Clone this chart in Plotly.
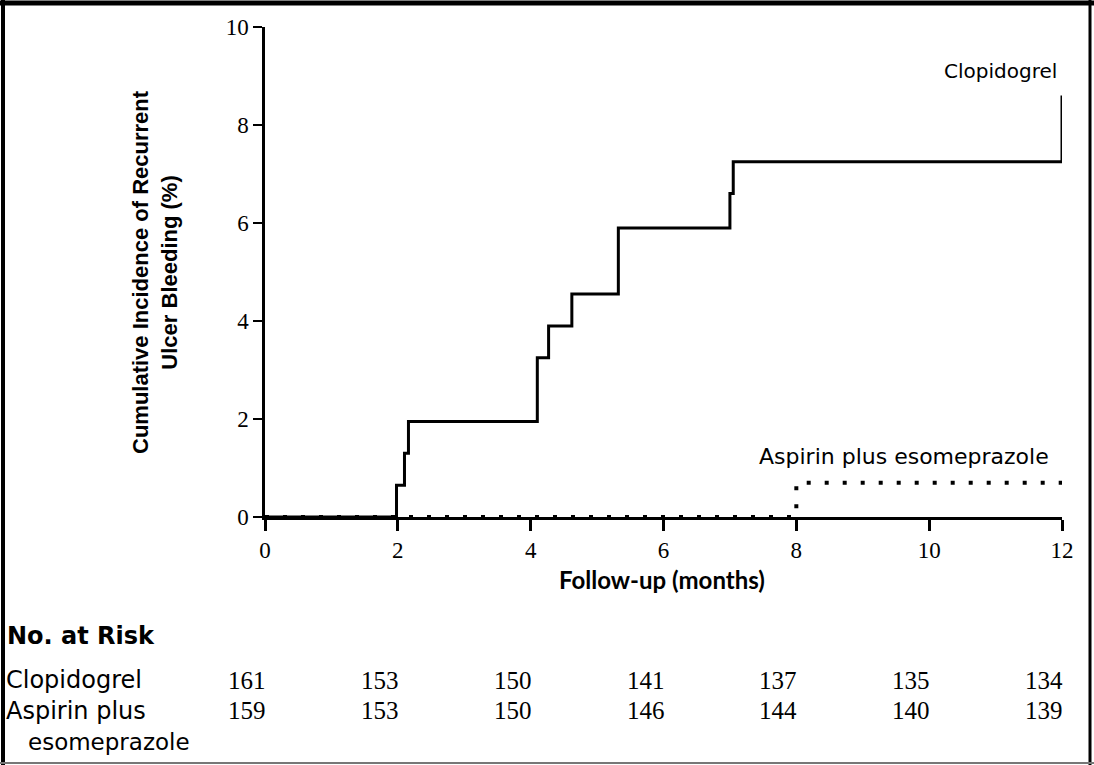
import plotly.graph_objects as go

# ---- data ----
clop_time = [0, 1.98, 2.1, 2.16, 4.1, 4.27, 4.62, 5.32, 7.0, 7.05, 12]
clop_cum = [0, 0.65, 1.3, 1.95, 3.25, 3.9, 4.55, 5.9, 6.6, 7.25, 8.6]
asp_time = [0, 8, 12]
asp_cum = [0, 0.7, 0.7]

risk_months = [0, 2, 4, 6, 8, 10, 12]
risk_clop = [161, 153, 150, 141, 137, 135, 134]
risk_asp = [159, 153, 150, 146, 144, 140, 139]

x_ticks = [0, 2, 4, 6, 8, 10, 12]
y_ticks = [0, 2, 4, 6, 8, 10]

# ---- layout geometry (pixels) ----
W, H = 1094, 765
L, R, T, B = 265, 32, 27, 248
PW = W - L - R
PH = H - T - B


def px(xp):
    return (xp - L) / PW


def py(yp):
    return (H - B - yp) / PH


serif = "Liberation Serif, Times New Roman, serif"
sans = "Lato, Open Sans, sans-serif"
wide = "DejaVu Sans, Verdana, sans-serif"
narrow = "Liberation Sans Narrow, Arial Narrow, Liberation Sans, sans-serif"

fig = go.Figure()
fig.add_trace(go.Scatter(x=asp_time, y=asp_cum, mode="lines", line_shape="hv",
                         line=dict(color="black", width=4, dash="4px,14px"),
                         name="Aspirin plus esomeprazole", showlegend=False))
fig.add_trace(go.Scatter(x=clop_time, y=clop_cum, mode="lines", line_shape="hv",
                         line=dict(color="black", width=3),
                         name="Clopidogrel", showlegend=False))

fig.update_xaxes(range=[0, 12], tickvals=x_ticks, ticktext=[str(v) for v in x_ticks],
                 showline=True, linecolor="black", linewidth=2.5,
                 ticks="outside", ticklen=11, tickwidth=2.5, tickcolor="black",
                 showgrid=False, zeroline=False,
                 tickfont=dict(family=serif, size=23, color="black"))
fig.update_yaxes(range=[0, 10], tickvals=y_ticks, ticktext=[str(v) for v in y_ticks],
                 showline=True, linecolor="black", linewidth=2.5,
                 ticks="outside", ticklen=9, tickwidth=2, tickcolor="black",
                 showgrid=False, zeroline=False,
                 tickfont=dict(family=serif, size=23, color="black"))

ann = []
# axis titles
ann.append(dict(text="<b>Cumulative Incidence of Recurrent<br>Ulcer Bleeding (%)</b>",
                xref="paper", yref="paper", x=px(155), y=py(272), textangle=-90,
                showarrow=False, xanchor="center", yanchor="middle",
                font=dict(family=narrow, size=22, color="black"), align="center"))
ann.append(dict(text="<b>Follow-up (months)</b>", xref="paper", yref="paper",
                x=px(662), y=py(579), showarrow=False, xanchor="center", yanchor="middle",
                font=dict(family=sans, size=24, color="black")))
# curve labels
ann.append(dict(text="Clopidogrel", xref="x", yref="y", x=11.08, y=9.1,
                showarrow=False, xanchor="center", yanchor="middle",
                font=dict(family=wide, size=20, color="black")))
ann.append(dict(text="Aspirin plus esomeprazole",
                xref="x", yref="y", x=9.62, y=1.24,
                showarrow=False, xanchor="center", yanchor="middle",
                font=dict(family=wide, size=22, color="black")))
# risk table
ann.append(dict(text="<b>No. at Risk</b>", xref="paper", yref="paper", x=px(5), y=py(636),
                showarrow=False, xanchor="left", yanchor="middle",
                font=dict(family=wide, size=24, color="black")))
ann.append(dict(text="Clopidogrel", xref="paper", yref="paper", x=px(4), y=py(680),
                showarrow=False, xanchor="left", yanchor="middle",
                font=dict(family=wide, size=24, color="black")))
ann.append(dict(text="Aspirin plus", xref="paper", yref="paper", x=px(4), y=py(711),
                showarrow=False, xanchor="left", yanchor="middle",
                font=dict(family=wide, size=24, color="black")))
ann.append(dict(text="esomeprazole", xref="paper", yref="paper", x=px(26), y=py(742),
                showarrow=False, xanchor="left", yanchor="middle",
                font=dict(family=wide, size=23, color="black")))
for m, c, a in zip(risk_months, risk_clop, risk_asp):
    ann.append(dict(text=str(c), xref="x", yref="paper", x=m, y=py(680), xshift=3,
                    showarrow=False, xanchor="right", yanchor="middle",
                    font=dict(family=serif, size=25, color="black")))
    ann.append(dict(text=str(a), xref="x", yref="paper", x=m, y=py(710), xshift=3,
                    showarrow=False, xanchor="right", yanchor="middle",
                    font=dict(family=serif, size=25, color="black")))

# page frame
shapes = [
    dict(type="line", xref="paper", yref="paper", x0=px(0), x1=px(W), y0=py(3), y1=py(3),
         line=dict(color="black", width=5)),
    dict(type="line", xref="paper", yref="paper", x0=px(3), x1=px(3), y0=py(0), y1=py(H),
         line=dict(color="black", width=4)),
    dict(type="line", xref="paper", yref="paper", x0=px(1090), x1=px(1090), y0=py(0), y1=py(H),
         line=dict(color="black", width=3)),
    dict(type="line", xref="paper", yref="paper", x0=px(0), x1=px(W), y0=py(763), y1=py(763),
         line=dict(color="#777777", width=2)),
]

fig.update_layout(width=W, height=H, margin=dict(l=L, r=R, t=T, b=B),
                  paper_bgcolor="white", plot_bgcolor="white",
                  annotations=ann, shapes=shapes, showlegend=False)

fig.write_html("out.html", config={"displayModeBar": False},
               post_script="document.body.style.margin='0px';document.body.style.overflow='hidden';")
